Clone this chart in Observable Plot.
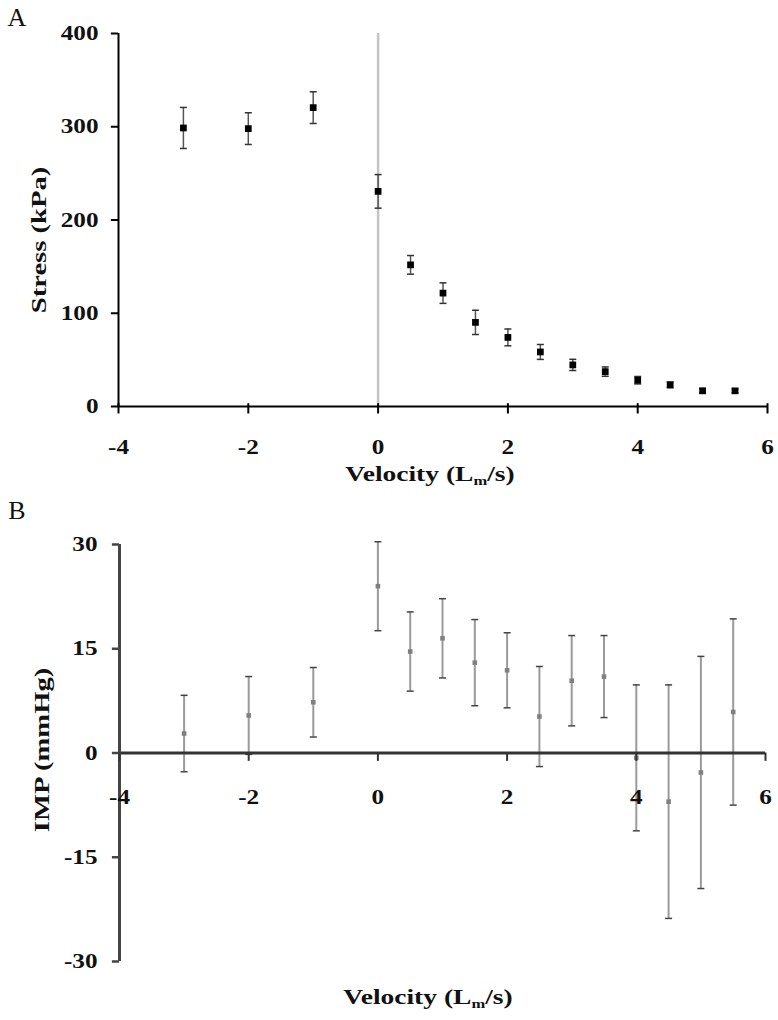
<!DOCTYPE html>
<html><head><meta charset="utf-8">
<script src="https://cdn.jsdelivr.net/npm/d3@7"></script>
<script src="https://cdn.jsdelivr.net/npm/@observablehq/plot@0.6"></script>
<style>
body{margin:0;background:#fff;}
#wrap{position:relative;width:778px;height:1020px;font-family:"Liberation Serif","Times New Roman",serif;overflow:hidden;}
.panel{position:absolute;left:0;}
.ttl{position:absolute;font-weight:bold;font-size:22px;white-space:nowrap;transform:translate(-50%,-50%) scaleX(1.25);color:#111;}
.ttl sub{font-size:0.6em;vertical-align:-0.3em;}
.vttl{position:absolute;font-weight:bold;font-size:22px;white-space:nowrap;transform:translate(-50%,-50%) rotate(-90deg) scaleX(1.3);color:#111;}
.plab{position:absolute;font-size:26px;transform:translate(-50%,-50%);color:#111;}
</style></head><body><div id="wrap"></div>
<script>
// ---- data ----
const velocity = [-3, -2, -1, 0, 0.5, 1, 1.5, 2, 2.5, 3, 3.5, 4, 4.5, 5, 5.5];
const stress = [298.7, 298, 320.5, 230.7, 151.9, 121.6, 90.2, 74.1, 58.5, 44.6, 37.4, 28.2, 23.2, 16.8, 16.8];
const stressErr = [22, 17, 17, 18, 10, 11, 13, 9, 8, 6, 5, 4, 3, 2.5, 2];
const imp = [2.8, 5.4, 7.3, 24.0, 14.6, 16.5, 13.0, 11.9, 5.25, 10.4, 11.0, -0.7, -7.0, -2.8, 5.9];
const impErr = [5.5, 5.6, 5.0, 6.4, 5.7, 5.7, 6.2, 5.4, 7.2, 6.5, 5.9, 10.5, 16.8, 16.7, 13.4];
const xTicks = [-4, -2, 0, 2, 4, 6];
const stressTicks = [0, 100, 200, 300, 400];
const impTicks = [-30, -15, 0, 15, 30];

const capSymbol = {draw(ctx, size) { const w = Math.sqrt(size / Math.PI); ctx.moveTo(-w, 0); ctx.lineTo(w, 0); }};
const fmt = d => String(d);
const baseStyle = {fontFamily: '"Liberation Serif","Times New Roman",serif', fontSize: "21px", fontWeight: "bold", color: "#111", background: "#fff", overflow: "visible"};

const dataA = velocity.map((v, i) => ({v, y: stress[i], e: stressErr[i]}));
const dataB = velocity.map((v, i) => ({v, y: imp[i], e: impErr[i]}));

const plotA = Plot.plot({
  width: 778, height: 500,
  marginLeft: 118, marginRight: 11, marginTop: 33, marginBottom: 94,
  x: {domain: [-4, 6], axis: null},
  y: {domain: [0, 400], axis: null},
  style: baseStyle,
  marks: [
    Plot.ruleX([0], {y1: 0, y2: 400, stroke: "#c4c4c4", strokeWidth: 2.5}),
    Plot.ruleX(dataA, {x: "v", y1: d => d.y - d.e, y2: d => d.y + d.e, stroke: "#555", strokeWidth: 1.5}),
    Plot.dot(dataA, {x: "v", y: d => d.y + d.e, symbol: capSymbol, r: 3.5, stroke: "#333", strokeWidth: 1.5}),
    Plot.dot(dataA, {x: "v", y: d => d.y - d.e, symbol: capSymbol, r: 3.5, stroke: "#333", strokeWidth: 1.5}),
    Plot.dot(dataA, {x: "v", y: "y", symbol: "square", fill: "#000", r: 3.8}),
    Plot.ruleY([0], {x1: -4, x2: 6, stroke: "#000", strokeWidth: 2}),
    Plot.ruleX([-4], {y1: 0, y2: 400, stroke: "#000", strokeWidth: 2}),
    Plot.ruleX(xTicks, {x: d => d, y1: 3, y2: -8, stroke: "#000", strokeWidth: 2}),
    Plot.ruleY(stressTicks, {y: d => d, x1: -4, x2: -4.11, stroke: "#000", strokeWidth: 2}),
    Plot.text(stressTicks, {y: d => d, x: -4, dx: -20, textAnchor: "end", text: fmt}),
    Plot.text(xTicks, {x: d => d, y: 0, dy: 41, text: fmt})
  ]
});

const plotB = Plot.plot({
  width: 778, height: 520,
  marginLeft: 119, marginRight: 13, marginTop: 44, marginBottom: 59,
  x: {domain: [-4, 6], axis: null},
  y: {domain: [-30, 30], axis: null},
  style: baseStyle,
  marks: [
    Plot.ruleX(dataB, {x: "v", y1: d => d.y - d.e, y2: d => d.y + d.e, stroke: "#9a9a9a", strokeWidth: 2}),
    Plot.dot(dataB, {x: "v", y: d => d.y + d.e, symbol: capSymbol, r: 3.5, stroke: "#444", strokeWidth: 1.5}),
    Plot.dot(dataB, {x: "v", y: d => d.y - d.e, symbol: capSymbol, r: 3.5, stroke: "#444", strokeWidth: 1.5}),
    Plot.dot(dataB, {x: "v", y: "y", symbol: "square", fill: "#808080", r: 2.6}),
    Plot.ruleY([0], {x1: -4, x2: 6, stroke: "#333", strokeWidth: 3}),
    Plot.ruleX([-4], {y1: -30, y2: 30, stroke: "#444", strokeWidth: 3}),
    Plot.ruleX(xTicks, {x: d => d, y1: 0, y2: -1.2, stroke: "#333", strokeWidth: 2}),
    Plot.ruleY(impTicks, {y: d => d, x1: -4, x2: -4.11, stroke: "#444", strokeWidth: 2.5}),
    Plot.text(impTicks, {y: d => d, x: -4, dx: -22, textAnchor: "end", text: fmt}),
    Plot.text(xTicks, {x: d => d, y: 0, dy: 44, text: fmt})
  ]
});

// horizontal stretch of the scanned lettering
for (const svg of [plotA, plotB]) {
  d3.select(svg).selectAll("text").each(function () {
    const t = this.getAttribute("transform");
    if (t) this.setAttribute("transform", t + " scale(1.2,1)");
  });
}

const wrap = document.getElementById("wrap");
plotA.classList.add("panel"); plotA.style.top = "0px";
plotB.classList.add("panel"); plotB.style.top = "500px";
wrap.appendChild(plotA);
wrap.appendChild(plotB);

function addDiv(cls, html, x, y) {
  const d = document.createElement("div");
  d.className = cls; d.innerHTML = html;
  d.style.left = x + "px"; d.style.top = y + "px";
  wrap.appendChild(d);
}
addDiv("plab", "A", 17, 18);
addDiv("plab", "B", 17, 511);
addDiv("ttl", "Velocity (L<sub>m</sub>/s)", 430, 475);
addDiv("ttl", "Velocity (L<sub>m</sub>/s)", 428, 998);
addDiv("vttl", "Stress (kPa)", 39, 240);
addDiv("vttl", "IMP (mmHg)", 42, 750);
</script>
</body></html>
